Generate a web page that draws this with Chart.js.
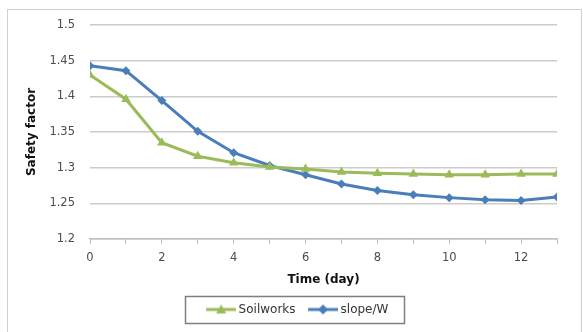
<!DOCTYPE html>
<html><head><meta charset="utf-8">
<script src="https://cdn.jsdelivr.net/npm/chart.js@4/dist/chart.umd.min.js"></script>
<style>
html,body{margin:0;padding:0;background:#fff;}
#wrap{position:relative;width:583px;height:332px;overflow:hidden;}
#frame{position:absolute;left:7px;top:9px;width:575px;height:340px;border:1px solid #d0d0d0;box-sizing:border-box;}
canvas{position:absolute;left:0;top:0;}
</style></head><body>
<div id="wrap"><div id="frame"></div><canvas id="c" width="583" height="332"></canvas></div>
<script>
// ---- data ----
const days = [0,1,2,3,4,5,6,7,8,9,10,11,12,13];
const soilworks = [1.430,1.396,1.335,1.316,1.307,1.301,1.298,1.294,1.292,1.291,1.290,1.290,1.291,1.291];
const slopeW    = [1.443,1.436,1.394,1.351,1.321,1.303,1.290,1.277,1.268,1.262,1.258,1.255,1.254,1.259];
const seriesNames = ['Soilworks','slope/W'];
const xTitle = 'Time (day)';
const yTitle = 'Safety factor';
const yMin = 1.2, yMax = 1.5, yStep = 0.05;
const xMin = 0, xMax = 13, xStep = 1;

const GREEN = '#9BBB59', BLUE = '#4A7EBB';
const FONT = '"DejaVu Sans"';

// legend sample: a short line with the series marker, drawn into an image
function legendIcon(color, shape){
  const w = 39, h = 12, a = 9;
  const c = document.createElement('canvas'); c.width = w; c.height = h;
  const g = c.getContext('2d');
  g.strokeStyle = color; g.fillStyle = color; g.lineWidth = 3;
  g.beginPath(); g.moveTo(a, h/2); g.lineTo(a + 30, h/2); g.stroke();
  const cx = a + 15, cy = h/2;
  g.beginPath();
  if (shape === 'triangle') { g.moveTo(cx, cy-5); g.lineTo(cx+5, cy+4); g.lineTo(cx-5, cy+4); }
  else { g.moveTo(cx, cy-5); g.lineTo(cx+5, cy); g.lineTo(cx, cy+5); g.lineTo(cx-5, cy); }
  g.closePath(); g.fill();
  return c;
}
const icons = [legendIcon(GREEN,'triangle'), legendIcon(BLUE,'diamond')];

const legendFrame = {
  id: 'legendFrame',
  afterDraw(chart){
    const lg = chart.legend;
    if (!lg || !lg.legendHitBoxes || !lg.legendHitBoxes.length) return;
    const hb = lg.legendHitBoxes;
    let l = Infinity, r = -Infinity, t = Infinity, b = -Infinity;
    hb.forEach(h => { l = Math.min(l, h.left); r = Math.max(r, h.left + h.width); t = Math.min(t, h.top); b = Math.max(b, h.top + h.height); });
    const cy = (t + b) / 2;
    const ctx = chart.ctx;
    ctx.save();
    ctx.strokeStyle = '#7f7f7f'; ctx.lineWidth = 1.5;
    const x0 = Math.round(l - 16), x1 = Math.round(r + 16);
    ctx.strokeRect(x0 + 0.5, Math.round(cy - 13.5) + 0.5, x1 - x0, 27);
    ctx.restore();
  }
};

new Chart(document.getElementById('c'), {
  type: 'line',
  data: {
    datasets: [
      { label: seriesNames[0], data: days.map((d,i)=>({x:d, y:soilworks[i]})),
        borderColor: GREEN, backgroundColor: GREEN, borderWidth: 3,
        pointStyle: 'triangle', pointRadius: 5.5, pointBorderWidth: 0, tension: 0 },
      { label: seriesNames[1], data: days.map((d,i)=>({x:d, y:slopeW[i]})),
        borderColor: BLUE, backgroundColor: BLUE, borderWidth: 3,
        pointStyle: 'rectRot', pointRadius: 4.5, pointBorderWidth: 0, tension: 0 }
    ]
  },
  options: {
    responsive: false, animation: false, devicePixelRatio: 1,
    layout: { padding: { left: 32, right: 26, top: 25, bottom: 6.5 } },
    scales: {
      x: {
        type: 'linear', min: xMin, max: xMax,
        ticks: { stepSize: xStep, autoSkip: false, maxRotation: 0, padding: 7, color: '#4d4d4d',
          font: { family: FONT, size: 11.5 }, callback: v => (v % 2 === 0 ? String(v) : '') },
        grid: { drawOnChartArea: false, drawTicks: true, tickLength: 5, color: '#bfbfbf' },
        border: { color: '#bfbfbf', width: 1.5 },
        title: { display: true, text: xTitle, color: '#111', font: { family: FONT, size: 12, weight: 'bold' }, padding: { top: 0, bottom: 9.3 } },
        afterFit: s => { s.height = 57.5; }
      },
      y: {
        min: yMin, max: yMax,
        ticks: { stepSize: yStep, padding: 15, color: '#4d4d4d', font: { family: FONT, size: 11.5 },
          callback: v => String(parseFloat(Number(v).toFixed(2))) },
        grid: { color: '#cccccc', drawTicks: false, lineWidth: 1.5 },
        border: { display: false },
        title: { display: true, text: yTitle, color: '#111', font: { family: FONT, size: 12, weight: 'bold' }, padding: { top: -7, bottom: 0 } },
        afterFit: s => { s.width = 58; }
      }
    },
    plugins: {
      legend: {
        position: 'bottom',
        labels: {
          usePointStyle: true, pointStyleWidth: 32, padding: 7,
          color: '#333', font: { family: FONT, size: 12 },
          generateLabels: chart => chart.data.datasets.map((ds, i) => ({
            text: ds.label, pointStyle: icons[i], fillStyle: ds.borderColor,
            strokeStyle: ds.borderColor, lineWidth: 0, hidden: false, datasetIndex: i, fontColor: '#333'
          }))
        }
      },
      tooltip: { enabled: false }
    }
  },
  plugins: [legendFrame]
});
</script>
</body></html>
